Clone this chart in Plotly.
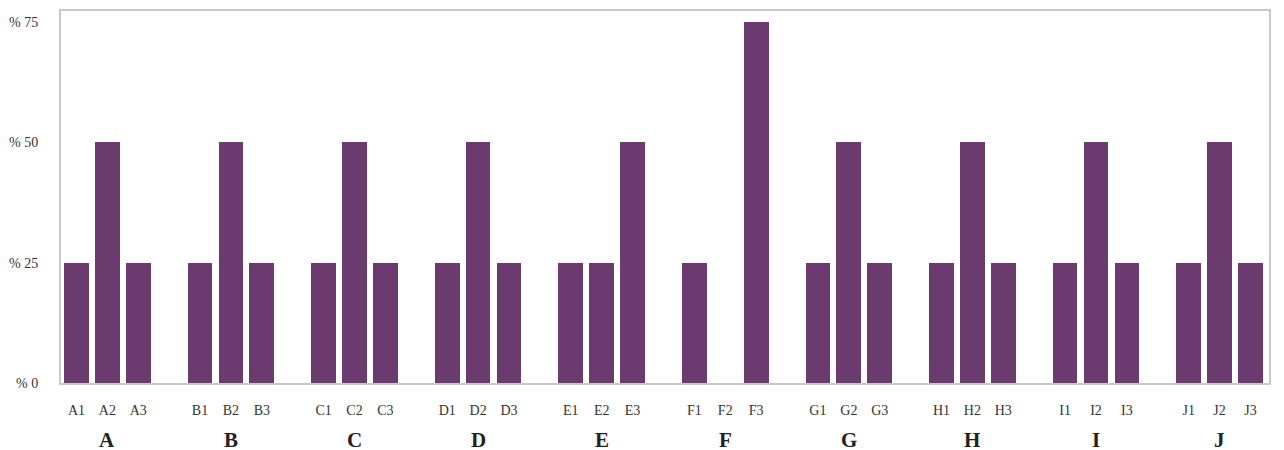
import plotly.graph_objects as go

groups = ["A", "B", "C", "D", "E", "F", "G", "H", "I", "J"]
sub_labels = ["A1", "A2", "A3", "B1", "B2", "B3", "C1", "C2", "C3", "D1", "D2", "D3",
              "E1", "E2", "E3", "F1", "F2", "F3", "G1", "G2", "G3", "H1", "H2", "H3",
              "I1", "I2", "I3", "J1", "J2", "J3"]
values = [25, 50, 25, 25, 50, 25, 25, 50, 25, 25, 50, 25,
          25, 25, 50, 25, 0, 75, 25, 50, 25, 25, 50, 25,
          25, 50, 25, 25, 50, 25]
y_ticks = [0, 25, 50, 75]
y_tick_labels = ["% 0", "% 25", "% 50", "% 75"]

# positions: 3 bars per group, then one empty slot
xpos = [g * 4 + i for g in range(len(groups)) for i in range(3)]
group_centers = [g * 4 + 1 for g in range(len(groups))]

fig = go.Figure()
fig.add_trace(go.Bar(
    x=xpos, y=values, width=0.8,
    marker=dict(color="#6B3B6F", line=dict(width=0)),
    hoverinfo="skip",
))

for gx, gname in zip(group_centers, groups):
    fig.add_annotation(
        x=gx, xref="x", y=0, yref="paper", yanchor="top", yshift=-43,
        text="<b>" + gname + "</b>", showarrow=False,
        font=dict(family="Liberation Serif", size=21, color="#222222"),
    )

fig.update_layout(
    width=1276, height=452,
    margin=dict(l=49, r=15, t=1, b=77),
    paper_bgcolor="white", plot_bgcolor="white",
    showlegend=False,
    bargap=0,
    xaxis=dict(
        range=[-0.5, 38.6],
        tickmode="array", tickvals=xpos, ticktext=sub_labels,
        tickfont=dict(family="Liberation Serif", size=14, color="#333333"),
        ticks="", ticklabelstandoff=13,
        showgrid=False, zeroline=False,
        showline=True, linecolor="#c8c8c8", linewidth=2, mirror=True,
    ),
    yaxis=dict(
        range=[0, 77.3],
        tickmode="array", tickvals=y_ticks, ticktext=y_tick_labels,
        tickfont=dict(family="Liberation Serif", size=14, color="#333333"),
        ticks="", ticklabelstandoff=18,
        showgrid=False, zeroline=False,
        showline=True, linecolor="#c8c8c8", linewidth=2, mirror=True,
    ),
)

fig.write_html("out.html")
